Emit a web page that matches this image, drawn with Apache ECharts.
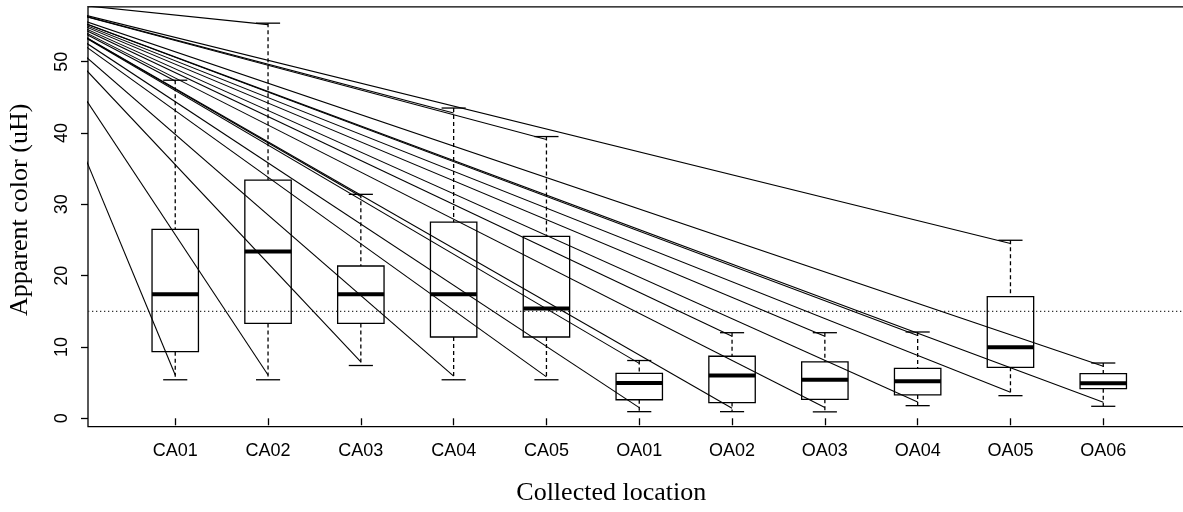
<!DOCTYPE html>
<html><head><meta charset="utf-8">
<script src="https://cdn.jsdelivr.net/npm/echarts@6/dist/echarts.min.js"></script>
<style>html,body{margin:0;padding:0;background:#fff;}#c{width:1183px;height:512px;}</style>
</head><body><div id="c"></div>
<script>
// ---- data ----
const categories = ['CA01','CA02','CA03','CA04','CA05','OA01','OA02','OA03','OA04','OA05','OA06'];
const whiskerLow  = [5.4, 5.4, 7.4, 5.4, 5.4, 0.93, 0.93, 0.9, 1.77, 3.17, 1.68];
const q1          = [9.34, 13.3, 13.3, 11.4, 11.4, 2.6, 2.2, 2.66, 3.27, 7.15, 4.15];
const median      = [17.4, 23.4, 17.4, 17.4, 15.4, 4.95, 6.0, 5.4, 5.2, 9.95, 4.9];
const q3          = [26.5, 33.4, 21.35, 27.5, 25.5, 6.3, 8.7, 7.9, 7.0, 17.05, 6.25];
const whiskerHigh = [47.4, 55.4, 31.4, 43.5, 39.5, 8.1, 12.0, 12.0, 12.1, 24.96, 7.75];
// end values of the straight lines that run in from the upper left
const lineEndLow  = [6.07, 6.07, 7.9, 5.9, 5.8, 1.5, 1.4, 1.5, 2.3, 3.65, 2.24];
const lineEndHigh = [47.3, 55.2, 31.1, 42.8, 39.1, 7.7, 11.5, 11.5, 11.6, 24.5, 7.3];
const lineOrigin  = [-0.68, 58.8];
const referenceLevel = 15;
const yTicks = [0, 10, 20, 30, 40, 50];
const xTicks = categories.map((c, i) => i + 1);

// ---- chart ----
const BOX_W = 0.5, CAP_W = 0.26;
const boxData = categories.map((c, i) => [i + 1, whiskerLow[i], q1[i], median[i], q3[i], whiskerHigh[i]]);

const series = [];
series.push({
  type: 'custom',
  data: boxData,
  z: 2,
  renderItem(params, api) {
    const xi = api.value(0);
    const p = k => api.coord([xi, api.value(k)]);
    const x = p(1)[0];
    const hw = api.size([BOX_W, 0])[0] / 2;
    const cw = api.size([CAP_W, 0])[0] / 2;
    const yLo = p(1)[1], yQ1 = p(2)[1], yMed = p(3)[1], yQ3 = p(4)[1], yHi = p(5)[1];
    const s = { stroke: '#000', lineWidth: 1.3, fill: null };
    const d = { stroke: '#000', lineWidth: 1.3, lineDash: [4, 3] };
    return { type: 'group', children: [
      { type: 'line', shape: { x1: x, y1: yHi, x2: x, y2: yQ3 }, style: d },
      { type: 'line', shape: { x1: x, y1: yQ1, x2: x, y2: yLo }, style: d },
      { type: 'line', shape: { x1: x - cw, y1: yHi, x2: x + cw, y2: yHi }, style: s },
      { type: 'line', shape: { x1: x - cw, y1: yLo, x2: x + cw, y2: yLo }, style: s },
      { type: 'rect', shape: { x: x - hw, y: yQ3, width: 2 * hw, height: yQ1 - yQ3 }, style: { stroke: '#000', lineWidth: 1.3, fill: 'rgba(0,0,0,0)' } },
      { type: 'line', shape: { x1: x - hw, y1: yMed, x2: x + hw, y2: yMed }, style: { stroke: '#000', lineWidth: 4 } }
    ]};
  }
});

// reference level (dotted)
series.push({
  type: 'line', data: [[0.06, referenceLevel], [11.94, referenceLevel]],
  symbol: 'none', silent: true, z: 1,
  lineStyle: { color: '#333', width: 1.2, type: [1.3, 2.7] }
});

// straight lines
categories.forEach((c, i) => {
  [lineEndLow[i], lineEndHigh[i]].forEach(v => {
    series.push({
      type: 'line', data: [lineOrigin, [i + 1, v]], clip: true,
      symbol: 'none', silent: true, z: 3,
      lineStyle: { color: '#000', width: 1.1 }
    });
  });
});

const chart = echarts.init(document.getElementById('c'), null, { renderer: 'canvas' });
chart.setOption({
  animation: false,
  backgroundColor: '#fff',
  grid: { left: 88, top: 6.9, width: 1102.5, height: 419.8, containLabel: false, outerBoundsMode: 'none',
          show: true, borderColor: '#000', borderWidth: 1.3, backgroundColor: 'rgba(0,0,0,0)' },
  xAxis: {
    type: 'value', min: 0.06, max: 11.94,
    splitLine: { show: false },
    axisLine: { show: false },
    axisTick: { show: true, customValues: xTicks, length: 7, lineStyle: { color: '#000', width: 1.3 } },
    axisLabel: { customValues: xTicks, formatter: v => categories[Math.round(v) - 1] || '', fontSize: 18, fontFamily: 'Liberation Sans', color: '#000', margin: 15 },
    name: 'Collected location', nameLocation: 'middle', nameGap: 53,
    nameTextStyle: { fontFamily: 'Liberation Serif', fontSize: 26, color: '#000', padding: [0, 56, 0, 0] }
  },
  yAxis: {
    type: 'value', min: -1.18, max: 57.68,
    splitLine: { show: false },
    axisLine: { show: false },
    axisTick: { show: true, customValues: yTicks, length: 7, lineStyle: { color: '#000', width: 1.3 } },
    axisLabel: { customValues: yTicks, rotate: 90, fontSize: 18, fontFamily: 'Liberation Sans', color: '#000', margin: 17 },
    name: 'Apparent color (uH)', nameLocation: 'middle', nameGap: 55, nameRotate: 90,
    nameTextStyle: { fontFamily: 'Liberation Serif', fontSize: 26, color: '#000', padding: [0, 0, 0, 14] }
  },
  series
});
</script></body></html>
